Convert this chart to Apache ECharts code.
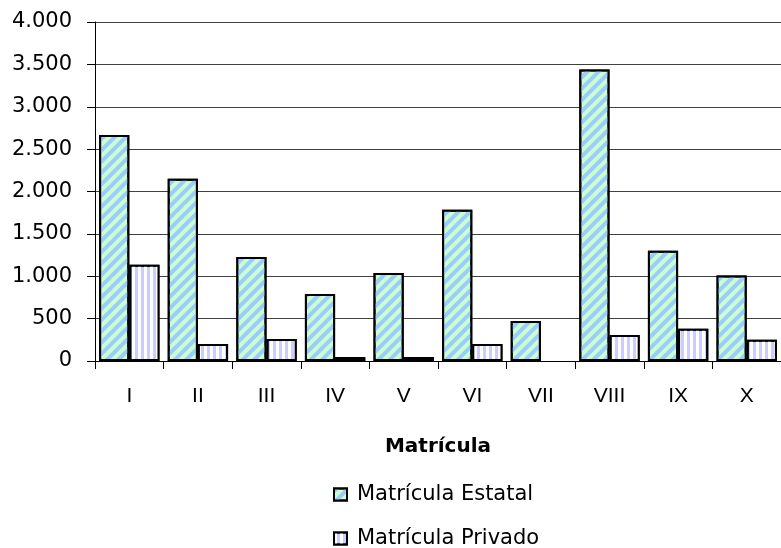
<!DOCTYPE html>
<html><head><meta charset="utf-8">
<script src="https://cdn.jsdelivr.net/npm/echarts@6/dist/echarts.min.js"></script>
<style>html,body{margin:0;padding:0;background:#fff}#c{width:781px;height:548px}</style>
</head><body><div id="c"></div>
<script>
var categories = ['I','II','III','IV','V','VI','VII','VIII','IX','X'];
var estatal = [2667, 2150, 1228, 790, 1038, 1785, 472, 3440, 1300, 1008];
var privado = [1135, 200, 260, 48, 48, 200, null, 307, 380, 252];
var yTicks = [0, 500, 1000, 1500, 2000, 2500, 3000, 3500, 4000];
var seriesNames = ['Matrícula Estatal', 'Matrícula Privado'];
var axisTitle = 'Matrícula';

var FONT = 'DejaVu Sans';
var chart = echarts.init(document.getElementById('c'));
function fmt(v){ return String(v).replace(/\B(?=(\d{3})+(?!\d))/g, '.'); }
function legendFor(name, top){
  return {
    orient: 'vertical', left: 328, top: top,
    itemWidth: 13, itemHeight: 12, icon: 'rect',
    textStyle: {fontFamily: FONT, fontSize: 21, color: '#000', padding: [0,0,0,5]},
    data: [name]
  };
}
chart.setOption({
  animation: false,
  grid: {left: 95, right: 0, top: 22, bottom: 187, containLabel: false},
  legend: [legendFor(seriesNames[0], 479), legendFor(seriesNames[1], 523)],
  xAxis: {
    type: 'category', data: categories,
    name: axisTitle, nameLocation: 'middle', nameGap: 76,
    nameTextStyle: {fontFamily: FONT, fontSize: 20, fontWeight: 'bold', color: '#000'},
    axisLine: {lineStyle: {color: '#000', width: 1}},
    axisTick: {show: true, length: 8, lineStyle: {color: '#000'}},
    axisLabel: {fontFamily: 'Liberation Sans', fontSize: 21, color: '#000', margin: 25}
  },
  yAxis: {
    type: 'value', min: yTicks[0], max: yTicks[yTicks.length-1], interval: 500,
    axisLine: {show: true, lineStyle: {color: '#000', width: 1}},
    axisTick: {show: true, length: 8, lineStyle: {color: '#000'}},
    axisLabel: {fontFamily: FONT, fontSize: 21, color: '#000', margin: 23, formatter: fmt},
    splitLine: {show: true, lineStyle: {color: '#404040', width: 1}}
  },
  series: [
    {
      name: seriesNames[0], type: 'bar', data: estatal,
      barGap: '0%', barCategoryGap: '12%',
      itemStyle: {
        color: '#ccffcc', borderColor: '#000', borderWidth: 2,
        decal: {symbol: 'rect', symbolSize: 1, color: '#99ccff', dashArrayX: [1, 0], dashArrayY: [4, 4], rotation: -Math.PI/4}
      }
    },
    {
      name: seriesNames[1], type: 'bar', data: privado,
      barGap: '0%', barCategoryGap: '12%',
      itemStyle: {
        color: '#ccccff', borderColor: '#000', borderWidth: 2,
        decal: {symbol: 'rect', symbolSize: 1, color: '#ffffff', dashArrayX: [3, 3], dashArrayY: [1, 0]}
      }
    }
  ]
});
</script></body></html>
